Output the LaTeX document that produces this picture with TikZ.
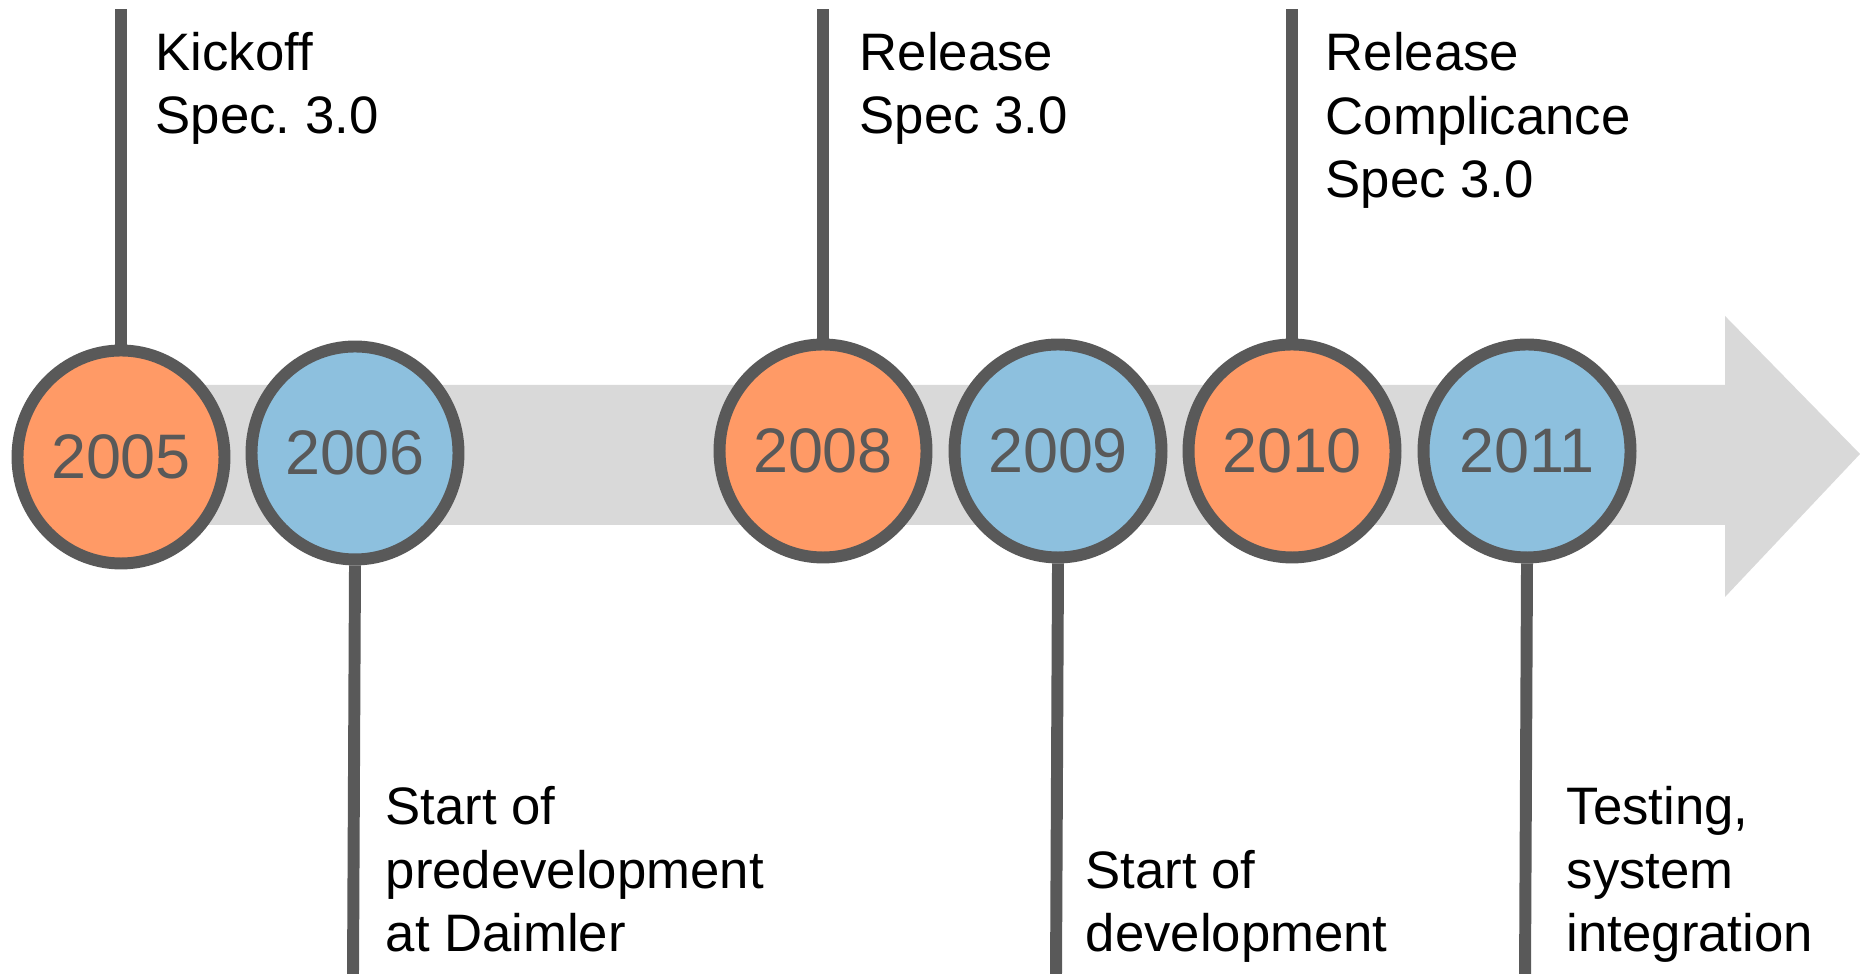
\documentclass[tikz,border=0pt]{standalone}
\usepackage{fontspec}
\setmainfont{Liberation Sans}
\frenchspacing
\usetikzlibrary{shapes.geometric}
\definecolor{stemgray}{RGB}{89,89,89}
\definecolor{bandgray}{RGB}{217,217,217}
\definecolor{yearorange}{RGB}{255,154,102}
\definecolor{yearblue}{RGB}{141,192,222}

\tikzset{
  yearnode/.style={ellipse, draw=stemgray, line width=3.4pt, minimum width=2.07cm, minimum height=2.13cm, inner sep=0pt, text=stemgray, font=\fontsize{17.9}{20}\selectfont},
  stemline/.style={stemgray, line width=3.4pt},
  note/.style={anchor=base west, align=left, inner sep=0pt, font=\fontsize{15}{18.2}\selectfont}
}

\begin{document}
\begin{tikzpicture}

\useasboundingbox (0,0) rectangle (18.6,9.74);

\coordinate (t05) at (1.21, 9.65);
\coordinate (b06) at (3.53, 0);
\coordinate (t08) at (8.23, 9.65);
\coordinate (b09) at (10.56, 0);
\coordinate (t10) at (12.92, 9.65);
\coordinate (b11) at (15.25, 0);

% time band
\fill [bandgray] (1.21,4.49) -- (17.25,4.49) -- (17.25,3.77) -- (18.6,5.2) -- (17.25,6.58) -- (17.25,5.89) -- (1.21,5.89) -- cycle;

\node [yearnode, fill=yearorange] (y05) at (1.21, 5.17) {2005};
\node [yearnode, fill=yearblue] (y06) at (3.55, 5.21) {2006};
\node [yearnode, fill=yearorange] (y08) at (8.23, 5.23) {2008};
\node [yearnode, fill=yearblue] (y09) at (10.58, 5.23) {2009};
\node [yearnode, fill=yearorange] (y10) at (12.92, 5.23) {2010};
\node [yearnode, fill=yearblue] (y11) at (15.27, 5.23) {2011};

\draw [stemline] (y05.north) -- (t05);
\draw [stemline] (y06.south) -- (b06);
\draw [stemline] (y08.north) -- (t08);
\draw [stemline] (y09.south) -- (b09);
\draw [stemline] (y10.north) -- (t10);
\draw [stemline] (y11.south) -- (b11);

% base = last line
\node [note] (n05) at (1.55, 8.40) {Kickoff\\Spec. 3.0};
\node [note] (n06) at (3.85, 0.22) {Start of\\predevelopment\\at Daimler};
\node [note] (n08) at (8.59, 8.40) {Release\\Spec 3.0};
\node [note] (n09) at (10.85, 0.22) {Start of\\development};
\node [note] (n10) at (13.25, 7.76) {Release\\Complicance\\Spec 3.0};
\node [note] (n11) at (15.66, 0.22) {Testing,\\system\\integration};

\end{tikzpicture}
\end{document}
